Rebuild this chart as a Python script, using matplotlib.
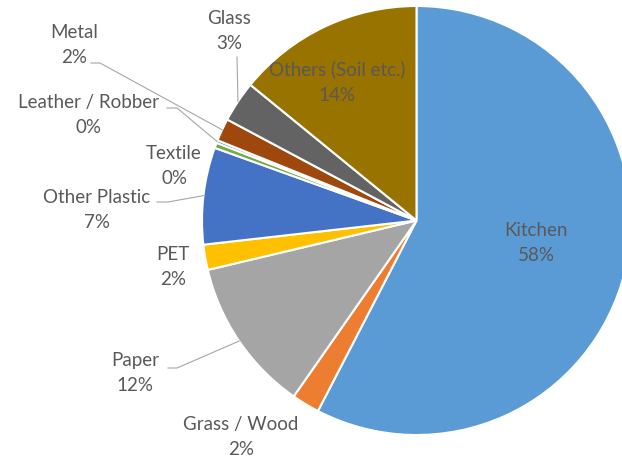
import numpy as np
import matplotlib
matplotlib.use("Agg")
import matplotlib.pyplot as plt

# Datos
categorias = ["Kitchen", "Grass / Wood", "Paper", "PET", "Other Plastic",
              "Textile", "Leather / Robber", "Metal", "Glass", "Others (Soil etc.)"]
porcentajes = [57.6, 2.1, 11.6, 1.9, 7.3, 0.4, 0.2, 1.7, 3.1, 14.1]
colores = ["#5B9BD5", "#ED7D31", "#A5A5A5", "#FFC000", "#4472C4",
           "#70AD47", "#255E91", "#9E480E", "#636363", "#997300"]

# Layout en pixeles (origen arriba a la izquierda)
W, H = 622, 463
centro = (416.5, 220.5)
radio = 214.5
pos_etiquetas = [(536, 243), (241, 437), (135, 373), (173, 267), (97, 210),
                 (174, 166), (88, 115), (74, 45), (229, 31), (337, 82)]
# lineas guia: indice -> (inicio, codo)
guias = {2: ((168, 368), (177, 368)),
         4: ((157, 202), (168, 202)),
         6: ((167, 108), (177, 108)),
         7: ((91, 63), (100, 63)),
         8: ((237, 57), (237, 57))}

fig = plt.figure(figsize=(W / 100, H / 100), dpi=100)
ax = fig.add_axes([0, 0, 1, 1])

wedges, _ = ax.pie(porcentajes, colors=colores, startangle=90, counterclock=False,
                   center=(centro[0], H - centro[1]), radius=radio,
                   wedgeprops=dict(edgecolor="white", linewidth=1.5))
ax.set_xlim(0, W)
ax.set_ylim(0, H)
ax.set_aspect("equal")
ax.axis("off")

for i, (nombre, valor) in enumerate(zip(categorias, porcentajes)):
    x, y = pos_etiquetas[i]
    ax.text(x, H - y, f"{nombre}\n{round(valor)}%", ha="center", va="center",
            fontsize=13.5, family=["Lato", "DejaVu Sans"], color="#595959",
            linespacing=1.62)
    if i in guias:
        w = wedges[i]
        ang = np.deg2rad((w.theta1 + w.theta2) / 2)
        ex = w.center[0] + w.r * np.cos(ang)
        ey = w.center[1] + w.r * np.sin(ang)
        (x0, y0), (x1, y1) = guias[i]
        ax.plot([x0, x1, ex], [H - y0, H - y1, ey], color="#A6A6A6", linewidth=0.8)

fig.savefig("out.png", dpi=100)
